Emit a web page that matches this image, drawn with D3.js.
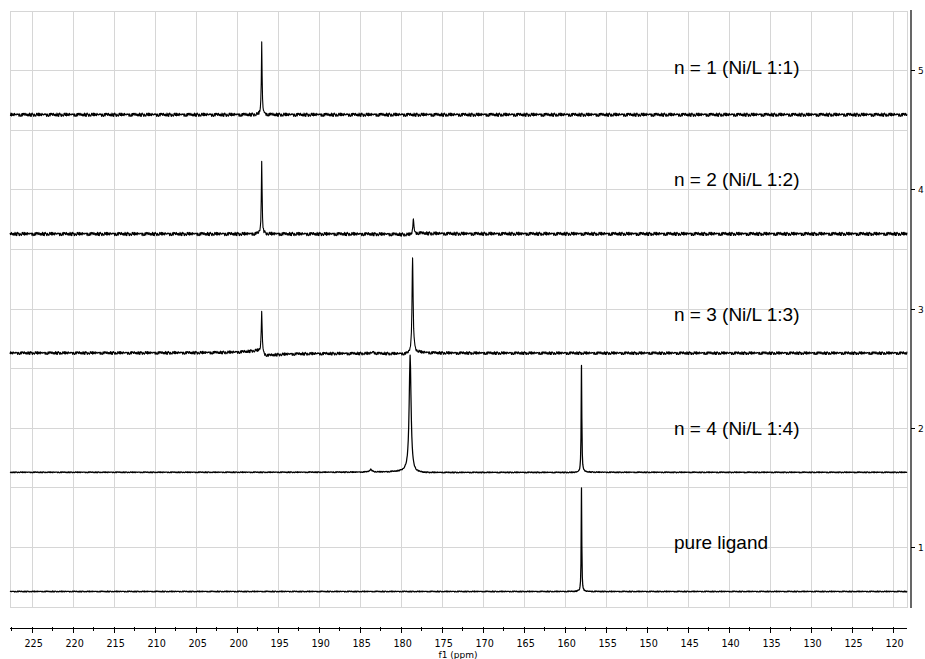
<!DOCTYPE html>
<html>
<head>
<meta charset="utf-8">
<script src="https://cdn.jsdelivr.net/npm/d3@7"></script>
<style>
  html, body { margin: 0; padding: 0; background: #fff; }
  svg { display: block; }
</style>
</head>
<body>
<svg id="chart" width="925" height="659"></svg>
<script>
// ---------------- DATA ----------------
const spectrumLabels = ["n = 1 (Ni/L 1:1)", "n = 2 (Ni/L 1:2)", "n = 3 (Ni/L 1:3)", "n = 4 (Ni/L 1:4)", "pure ligand"];
const labelBaselines = [4.97, 4.03, 2.90, 1.94, 0.99];          // y-value of each label baseline
const spectrumOffsets = [4.63, 3.63, 2.63, 1.63, 0.63];          // baseline value of each trace
const noiseLevels = [0.014, 0.014, 0.012, 0.004, 0.004];        // baseline noise amplitude
// peaks: ppm, height, FWHM (ppm), dispersive part d and its width dw
const peaksN1 = [ { ppm: 197.0, h: 0.60, w: 0.11, d: 0, dw: 1 } ];
const peaksN2 = [ { ppm: 197.0, h: 0.62, w: 0.11, d: 0, dw: 1 },
                  { ppm: 178.5, h: 0.13, w: 0.13, d: 0.012, dw: 1.5 } ];
const peaksN3 = [ { ppm: 197.0, h: 0.35, w: 0.13, d: -0.04, dw: 1.4 },
                  { ppm: 183.4, h: 0.012, w: 0.4, d: 0, dw: 1 },
                  { ppm: 178.6, h: 0.80, w: 0.16, d: 0.015, dw: 1.2 } ];
const peaksN4 = [ { ppm: 183.7, h: 0.022, w: 0.35, d: 0, dw: 1 },
                  { ppm: 178.9, h: 0.98, w: 0.28, d: -0.012, dw: 1.5 },
                  { ppm: 158.0, h: 0.90, w: 0.09, d: 0.004, dw: 1 } ];
const peaksLigand = [ { ppm: 158.0, h: 0.87, w: 0.08, d: 0, dw: 1 } ];
const allPeaks = [peaksN1, peaksN2, peaksN3, peaksN4, peaksLigand];
// hand-typed baseline jitter pattern (cycled)
const jitter = [0.3, -0.8, 0.9, -0.2, -1.0, 0.6, 0.1, -0.5, 1.0, -0.7, 0.4, -0.1, -0.9, 0.8, 0.2, -0.4,
                0.7, -1.0, 0.5, 0.0, -0.6, 0.9, -0.3, 0.6, -0.8, 0.2, 1.0, -0.5, -0.2, 0.8, -0.9, 0.4,
                0.1, -0.7, 0.6, -0.4, 0.9, -1.0, 0.3, 0.5, -0.6, 0.0, 0.7, -0.3, -0.8, 1.0, -0.1, 0.4,
                -0.5, 0.8, -0.9, 0.2, 0.6, -0.2, -0.7, 0.9, 0.1, -0.4, 0.5, -1.0, 0.3];
const xMajorTicks = [225, 220, 215, 210, 205, 200, 195, 190, 185, 180, 175, 170, 165, 160, 155, 150, 145, 140, 135, 130, 125, 120];
const xMinorTicks = [227.5, 222.5, 217.5, 212.5, 207.5, 202.5, 197.5, 192.5, 187.5, 182.5, 177.5, 172.5, 167.5, 162.5, 157.5, 152.5, 147.5, 142.5, 137.5, 132.5, 127.5, 122.5];
const yTicks = [1, 2, 3, 4, 5];
const yGrid = [1, 1.5, 2, 2.5, 3, 3.5, 4, 4.5, 5];
const xDomain = [227.7, 118.3];
const yDomain = [0.5, 5.5];
const xAxisTitle = "f1 (ppm)";

// ---------------- LAYOUT ----------------
const svg = d3.select("#chart");
const pLeft = 10, pRight = 907, pTop = 11, pBottom = 607;
const x = d3.scaleLinear().domain(xDomain).range([pLeft, pRight]);
const y = d3.scaleLinear().domain(yDomain).range([pBottom, pTop]);

// grid
const grid = svg.append("g").attr("stroke", "#d6d6d6").attr("stroke-width", 1).attr("shape-rendering", "crispEdges");
grid.selectAll("line.v").data(xMajorTicks).join("line").attr("class", "v")
  .attr("x1", d => x(d)).attr("x2", d => x(d)).attr("y1", pTop).attr("y2", pBottom);
grid.selectAll("line.h").data(yGrid).join("line").attr("class", "h")
  .attr("x1", pLeft).attr("x2", pRight).attr("y1", d => y(d)).attr("y2", d => y(d));
grid.append("rect").attr("x", pLeft).attr("y", pTop).attr("width", pRight - pLeft).attr("height", pBottom - pTop)
  .attr("fill", "none");

// spectra
const step = 0.055;
const baseGrid = d3.range(xDomain[1], xDomain[0] + 1e-9, step);
const line = d3.line().x(d => x(d[0])).y(d => y(d[1]));
allPeaks.forEach((peaks, i) => {
  const pts = baseGrid.concat(peaks.map(p => p.ppm)).sort((a, b) => a - b);
  const data = pts.map((ppm, k) => {
    let v = spectrumOffsets[i] + noiseLevels[i] * jitter[(k * 7 + i * 13) % jitter.length];
    peaks.forEach(p => {
      const u = 2 * (ppm - p.ppm) / p.w;
      v += p.h / (1 + u * u);
      const t = 2 * (p.ppm - ppm) / p.dw;
      v += p.d * t / (1 + t * t);
    });
    return [ppm, v];
  });
  svg.append("path").datum(data)
    .attr("fill", "none").attr("stroke", "#000")
    .attr("stroke-width", i >= 3 ? 1.25 : 1.1)
    .attr("stroke-linejoin", "round")
    .attr("d", line);
});

// labels
svg.selectAll("text.lab").data(spectrumLabels).join("text").attr("class", "lab")
  .attr("x", 674).attr("y", (d, i) => y(labelBaselines[i]))
  .attr("font-family", "Liberation Sans, Arial, sans-serif").attr("font-size", 19)
  .attr("fill", "#000").text(d => d);

// x axis
const axisY = 628;
const xg = svg.append("g").attr("transform", `translate(0,${axisY})`);
xg.append("line").attr("x1", pLeft).attr("x2", pRight).attr("stroke", "#000").attr("stroke-width", 1)
  .attr("shape-rendering", "crispEdges");
xg.selectAll("line.maj").data(xMajorTicks).join("line").attr("class", "maj")
  .attr("x1", d => x(d)).attr("x2", d => x(d)).attr("y1", -1).attr("y2", 5)
  .attr("stroke", "#000").attr("shape-rendering", "crispEdges");
xg.selectAll("line.min").data(xMinorTicks.filter(d => d < xDomain[0] && d > xDomain[1])).join("line").attr("class", "min")
  .attr("x1", d => x(d)).attr("x2", d => x(d)).attr("y1", -1).attr("y2", 3)
  .attr("stroke", "#000").attr("shape-rendering", "crispEdges");
xg.selectAll("text.tl").data(xMajorTicks).join("text").attr("class", "tl")
  .attr("x", d => x(d) + 1.5).attr("y", 19).attr("text-anchor", "middle")
  .attr("font-family", "DejaVu Sans, Verdana, sans-serif").attr("font-size", 9.6)
  .attr("fill", "#000").text(d => d);
svg.append("text").attr("x", 458).attr("y", 658).attr("text-anchor", "middle")
  .attr("font-family", "DejaVu Sans, Verdana, sans-serif").attr("font-size", 9)
  .attr("fill", "#000").text(xAxisTitle);

// right y axis
const axisX = 911;
const yg = svg.append("g").attr("transform", `translate(${axisX},0)`);
yg.append("line").attr("y1", 10).attr("y2", 608).attr("stroke", "#000").attr("stroke-width", 1.2);
yg.selectAll("line.t").data(yTicks).join("line").attr("class", "t")
  .attr("x1", 0).attr("x2", 4).attr("y1", d => y(d)).attr("y2", d => y(d))
  .attr("stroke", "#000").attr("shape-rendering", "crispEdges");
yg.selectAll("text.yl").data(yTicks).join("text").attr("class", "yl")
  .attr("x", 7).attr("y", d => y(d) + 3.5)
  .attr("font-family", "DejaVu Sans, Verdana, sans-serif").attr("font-size", 9)
  .attr("fill", "#000").text(d => d);
</script>
</body>
</html>
